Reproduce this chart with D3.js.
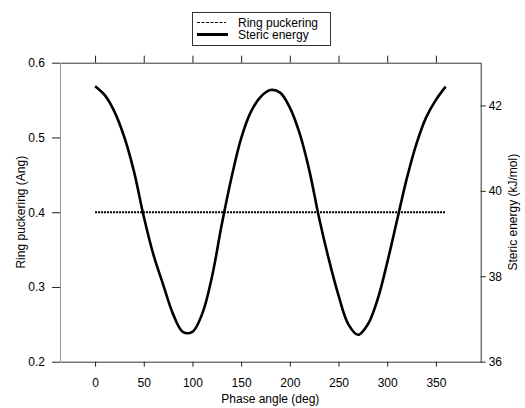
<!DOCTYPE html>
<html>
<head>
<meta charset="utf-8">
<script src="https://cdn.jsdelivr.net/npm/d3@7"></script>
<style>
  body { margin: 0; background: #fff; }
  svg { display: block; }
  text { font-family: "Liberation Sans", Arial, sans-serif; font-size: 12px; fill: #000; }
</style>
</head>
<body>
<div class="chart"></div>
<script>
var width = 525,
    height = 408;

// data
var phase = [0, 10, 20, 30, 40, 50, 60, 70, 80, 90, 100, 110, 120, 130, 140, 150, 160, 170, 180,
             190, 200, 210, 220, 230, 240, 250, 260, 270, 280, 290, 300, 310, 320, 330, 340, 350, 360];
var steric = [42.45, 42.24, 41.85, 41.26, 40.45, 39.4, 38.5, 37.8, 37.12, 36.7, 36.7, 37.12, 37.98,
              39.2, 40.3, 41.23, 41.85, 42.2, 42.36, 42.3, 41.95, 41.35, 40.48, 39.37, 38.4, 37.55,
              36.88, 36.63, 36.87, 37.45, 38.32, 39.3, 40.28, 41.1, 41.72, 42.13, 42.44];
var puckering = phase.map(function () { return 0.4; });

var xTicks = [0, 50, 100, 150, 200, 250, 300, 350];
var leftTicks = [0.2, 0.3, 0.4, 0.5, 0.6];
var rightTicks = [36, 38, 40, 42];

var svg = d3.select(".chart")
    .append("svg")
    .attr("width", width)
    .attr("height", height);

var plotLeft = 60, plotRight = 480.7, plotTop = 62.7, plotBottom = 361.7;

var x = d3.scaleLinear().domain([-36, 396]).range([plotLeft, plotRight]);
var yL = d3.scaleLinear().domain([0.2, 0.6]).range([plotBottom, plotTop]);
var yR = d3.scaleLinear().domain([36, 43]).range([plotBottom, plotTop]);

// axes
var gBottom = svg.append("g")
    .attr("transform", "translate(0," + plotBottom + ")")
    .call(d3.axisBottom(x).tickValues(xTicks).tickFormat(d3.format("d"))
        .tickSizeInner(5).tickSizeOuter(0).tickPadding(12));

var gTop = svg.append("g")
    .attr("transform", "translate(0," + plotTop + ")")
    .call(d3.axisTop(x).tickValues(xTicks).tickFormat("")
        .tickSizeInner(7).tickSizeOuter(0));

var gLeft = svg.append("g")
    .attr("transform", "translate(" + plotLeft + ",0)")
    .call(d3.axisLeft(yL).tickValues(leftTicks).tickFormat(d3.format(".1f"))
        .tickSizeInner(8).tickSizeOuter(0).tickPadding(7));

var gRight = svg.append("g")
    .attr("transform", "translate(" + plotRight + ",0)")
    .call(d3.axisRight(yR).tickValues(rightTicks).tickFormat(d3.format("d"))
        .tickSizeInner(5).tickSizeOuter(0).tickPadding(3));

[gBottom, gTop, gLeft, gRight].forEach(function (g) {
    g.selectAll("text").style("font-family", "Liberation Sans, Arial, sans-serif")
        .style("font-size", "12px").attr("fill", "#000");
    g.selectAll(".tick line").attr("stroke", "#222");
    g.select(".domain").attr("stroke", "#333");
});
gLeft.select(".domain").attr("stroke", "#999");

// axis titles
svg.append("text")
    .attr("x", (plotLeft + plotRight) / 2)
    .attr("y", 403)
    .attr("text-anchor", "middle")
    .text("Phase angle (deg)");

svg.append("text")
    .attr("transform", "translate(25," + ((plotTop + plotBottom) / 2) + ") rotate(-90)")
    .attr("text-anchor", "middle")
    .text("Ring puckering (Ang)");

svg.append("text")
    .attr("transform", "translate(517," + ((plotTop + plotBottom) / 2) + ") rotate(-90)")
    .attr("text-anchor", "middle")
    .text("Steric energy (kJ/mol)");

// lines
var pLine = d3.line()
    .x(function (d, i) { return x(phase[i]); })
    .y(function (d) { return yL(d); });

var sLine = d3.line()
    .x(function (d, i) { return x(phase[i]); })
    .y(function (d) { return yR(d); })
    .curve(d3.curveCatmullRom);

svg.append("path")
    .attr("d", pLine(puckering))
    .attr("fill", "none")
    .attr("stroke", "#000")
    .attr("stroke-width", 2)
    .attr("stroke-dasharray", "2,1");

svg.append("path")
    .attr("d", sLine(steric))
    .attr("fill", "none")
    .attr("stroke", "#000")
    .attr("stroke-width", 2.6)
    .attr("stroke-linejoin", "round");

// legend
var legend = svg.append("g");
legend.append("rect")
    .attr("x", 192.5).attr("y", 12.5)
    .attr("width", 138).attr("height", 33)
    .attr("fill", "#fff")
    .attr("stroke", "#333");

legend.append("line")
    .attr("x1", 197).attr("x2", 226).attr("y1", 22.5).attr("y2", 22.5)
    .attr("stroke", "#000").attr("stroke-width", 1).attr("stroke-dasharray", "3,1.5");
legend.append("line")
    .attr("x1", 197).attr("x2", 228).attr("y1", 34.5).attr("y2", 34.5)
    .attr("stroke", "#000").attr("stroke-width", 3);

legend.append("text").attr("x", 238).attr("y", 26.5).text("Ring puckering");
legend.append("text").attr("x", 238).attr("y", 39).text("Steric energy");
</script>
</body>
</html>
